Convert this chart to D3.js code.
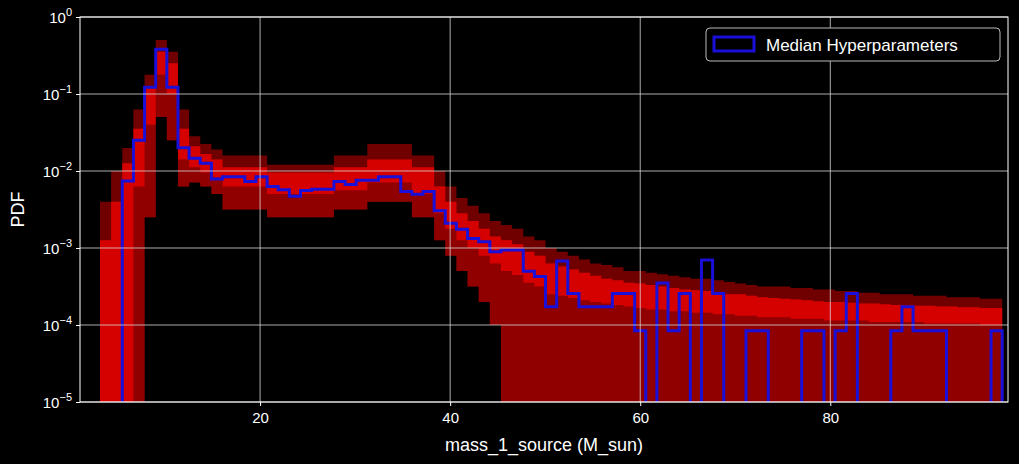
<!DOCTYPE html>
<html><head><meta charset="utf-8">
<script src="https://cdn.jsdelivr.net/npm/d3@7"></script>
<style>
body{margin:0;background:#000;}
svg{display:block;font-family:"Liberation Sans",Arial,sans-serif;}
</style></head>
<body><svg id="chart" width="1019" height="464"></svg>
<script>
// blue histogram: 79 bins from 5.5 to 98.1
const binMin = 5.5, binWidth = 1.172;
const medianPdf = [7.4e-3, 2.5e-2, 0.122, 0.38, 0.122, 0.020, 0.0146, 0.0126, 7.9e-3, 8.4e-3,
  8.4e-3, 7.3e-3, 8.4e-3, 6.3e-3, 5.7e-3, 4.7e-3, 5.6e-3, 5.8e-3, 5.8e-3, 7.3e-3,
  6.7e-3, 7.6e-3, 7.6e-3, 8.4e-3, 8.4e-3, 5.4e-3, 5.0e-3, 5.4e-3, 3.05e-3, 2.1e-3,
  1.75e-3, 1.33e-3, 1.21e-3, 8.95e-4, 9.4e-4, 9.4e-4, 5.0e-4, 4.26e-4, 1.73e-4, 6.8e-4,
  2.57e-4, 1.73e-4, 1.73e-4, 1.73e-4, 2.57e-4, 2.57e-4, 8.4e-5, 0, 3.5e-4, 8.4e-5,
  2.57e-4, 0, 7.0e-4, 2.57e-4, 0, 0, 8.4e-5, 8.4e-5, 0, 0,
  0, 8.4e-5, 8.4e-5, 0, 8.4e-5, 2.57e-4, 0, 0, 0, 8.4e-5,
  1.73e-4, 8.4e-5, 8.4e-5, 8.4e-5, 0, 0, 0, 0, 8.4e-5];

// red posterior-draw envelope (log10 PDF), 81 bins starting two bins left of binMin
const redHi    = [-2.4,-2.0,-1.7,-1.2,-0.75,-0.3,-0.45,-1.2,-1.55,-1.65,-1.72,-1.8,-1.8,-1.8,-1.8,-1.92,-1.92,-1.92,-1.92,-1.92,-1.92,-1.8,-1.8,-1.8,-1.65,-1.65,-1.65,-1.65,-1.8,-1.8,-2.0,-2.2,-2.35,-2.45,-2.55,-2.65,-2.7,-2.75,-2.85,-2.9,-3.0,-3.05,-3.1,-3.15,-3.2,-3.22,-3.25,-3.3,-3.3,-3.32,-3.34,-3.36,-3.38,-3.4,-3.4,-3.42,-3.44,-3.46,-3.48,-3.5,-3.5,-3.5,-3.52,-3.52,-3.54,-3.54,-3.56,-3.56,-3.58,-3.58,-3.6,-3.6,-3.6,-3.62,-3.62,-3.62,-3.64,-3.64,-3.64,-3.66,-3.66];
const redMidHi = [-2.9,-2.4,-1.9,-1.45,-0.9,-0.45,-0.6,-1.45,-1.68,-1.78,-1.85,-1.95,-1.95,-1.95,-1.95,-2.02,-2.02,-2.02,-2.02,-2.02,-2.02,-1.95,-1.95,-1.95,-1.85,-1.85,-1.85,-1.85,-1.95,-1.95,-2.2,-2.4,-2.55,-2.65,-2.75,-2.85,-2.9,-2.95,-3.05,-3.1,-3.2,-3.24,-3.28,-3.32,-3.36,-3.4,-3.42,-3.45,-3.46,-3.48,-3.5,-3.52,-3.54,-3.55,-3.56,-3.58,-3.6,-3.6,-3.62,-3.64,-3.65,-3.66,-3.67,-3.68,-3.69,-3.7,-3.7,-3.71,-3.72,-3.72,-3.73,-3.74,-3.74,-3.75,-3.75,-3.76,-3.76,-3.77,-3.77,-3.78,-3.78];
const redMidLo = [-5,-5,-5,-2.2,-1.4,-0.75,-1.0,-1.85,-1.95,-2.02,-2.08,-2.2,-2.2,-2.2,-2.2,-2.3,-2.3,-2.3,-2.3,-2.3,-2.3,-2.25,-2.25,-2.25,-2.15,-2.15,-2.15,-2.15,-2.3,-2.3,-2.55,-2.75,-2.9,-3.0,-3.1,-3.2,-3.3,-3.35,-3.45,-3.5,-3.6,-3.62,-3.65,-3.68,-3.7,-3.72,-3.74,-3.76,-3.78,-3.8,-3.8,-3.82,-3.82,-3.84,-3.84,-3.86,-3.86,-3.88,-3.88,-3.9,-3.9,-3.9,-3.92,-3.92,-3.92,-3.94,-3.94,-3.94,-3.94,-3.96,-3.96,-3.96,-3.96,-3.96,-3.98,-3.98,-3.98,-3.98,-3.98,-4.0,-4.0];
const redLo    = [-5,-5,-5,-5,-2.6,-1.3,-1.6,-2.2,-2.15,-2.2,-2.3,-2.5,-2.5,-2.5,-2.5,-2.6,-2.6,-2.6,-2.6,-2.6,-2.6,-2.5,-2.5,-2.5,-2.4,-2.4,-2.4,-2.4,-2.6,-2.6,-2.9,-3.1,-3.3,-3.5,-3.7,-4.0,-5,-5,-5,-5,-5,-5,-5,-5,-5,-5,-5,-5,-5,-5,-5,-5,-5,-5,-5,-5,-5,-5,-5,-5,-5,-5,-5,-5,-5,-5,-5,-5,-5,-5,-5,-5,-5,-5,-5,-5,-5,-5,-5,-5,-5];

const xTicks = [20, 40, 60, 80];
const yTicks = [-5, -4, -3, -2, -1, 0];

const svg = d3.select("#chart");
const margin = {left: 80, right: 11, top: 17, bottom: 62};
const W = 1019, H = 464;

const x = d3.scaleLinear().domain([1.05, 98.7]).range([margin.left, W - margin.right]);
const y = d3.scaleLog().domain([1e-5, 1]).range([H - margin.bottom, margin.top]);

svg.append("rect").attr("width", W).attr("height", H).attr("fill", "#000");

svg.append("clipPath").attr("id", "clip").append("rect")
  .attr("x", margin.left).attr("y", margin.top)
  .attr("width", W - margin.left - margin.right).attr("height", H - margin.top - margin.bottom);

const plot = svg.append("g").attr("clip-path", "url(#clip)");

const redStart = binMin - 2 * binWidth;
const redBins = redHi.map((h, i) => ({
  x0: redStart + i * binWidth, x1: redStart + (i + 1) * binWidth,
  hi: h, midHi: redMidHi[i], midLo: redMidLo[i], lo: redLo[i]
}));
const p = v => y(Math.pow(10, Math.max(v, -5.2)));

// faint outer envelope, then denser core, drawn as step areas
const area = (top, bot) => d3.area()
  .x(d => x(d.xx)).y0(d => p(d[bot])).y1(d => p(d[top])).curve(d3.curveStepAfter);
const stepPts = redBins.flatMap(d => [{...d, xx: d.x0}]).concat([{...redBins[redBins.length - 1], xx: redBins[redBins.length - 1].x1}]);

plot.append("path").datum(stepPts).attr("d", area("hi", "lo"))
  .attr("fill", "#a00000").attr("opacity", 0.7);
plot.append("path").datum(stepPts).attr("d", area("midHi", "lo"))
  .attr("fill", "#b00000").attr("opacity", 0.5);
plot.append("path").datum(stepPts).attr("d", area("midHi", "midLo"))
  .attr("fill", "#e60000").attr("opacity", 0.8);

// grid
const grid = svg.append("g").attr("stroke", "#d8d8d8").attr("stroke-width", 0.8);
grid.selectAll(".gx").data(xTicks).join("line")
  .attr("x1", d => x(d)).attr("x2", d => x(d)).attr("y1", margin.top).attr("y2", H - margin.bottom);
grid.selectAll(".gy").data(yTicks).join("line")
  .attr("x1", margin.left).attr("x2", W - margin.right)
  .attr("y1", d => y(Math.pow(10, d))).attr("y2", d => y(Math.pow(10, d)));

// blue step histogram
const pts = [];
const yv = v => v > 0 ? y(v) : y(1e-6);
medianPdf.forEach((v, i) => {
  const x0 = binMin + i * binWidth, x1 = x0 + binWidth;
  if (i === 0) pts.push([x(x0), y(1e-6)]);
  pts.push([x(x0), yv(v)], [x(x1), yv(v)]);
});
pts.push([x(binMin + medianPdf.length * binWidth), y(1e-6)]);
plot.append("path").attr("d", d3.line()(pts))
  .attr("fill", "none").attr("stroke", "#1a0fd8").attr("stroke-width", 3);

// frame
svg.append("rect").attr("x", margin.left).attr("y", margin.top)
  .attr("width", W - margin.left - margin.right).attr("height", H - margin.top - margin.bottom)
  .attr("fill", "none").attr("stroke", "#fff").attr("stroke-width", 1);

// axes
const xAxis = svg.append("g").attr("transform", `translate(0,${H - margin.bottom})`)
  .call(d3.axisBottom(x).tickValues(xTicks).tickSize(4).tickFormat(d3.format("d")));
xAxis.select(".domain").remove();
xAxis.selectAll("line").attr("stroke", "#fff");
xAxis.selectAll("text").attr("fill", "#fff").attr("font-size", 15).attr("dy", "0.95em")
  .style("font-family", "Liberation Sans, Arial, sans-serif");

const yAxis = svg.append("g").attr("transform", `translate(${margin.left},0)`)
  .call(d3.axisLeft(y).tickValues(yTicks.map(d => Math.pow(10, d))).tickSize(4).tickFormat(""));
yAxis.select(".domain").remove();
yAxis.selectAll("line").attr("stroke", "#fff");
yTicks.forEach(d => {
  const t = svg.append("text").attr("x", margin.left - 8).attr("y", y(Math.pow(10, d)) + 6)
    .attr("text-anchor", "end").attr("fill", "#fff").attr("font-size", 15);
  t.append("tspan").text("10");
  t.append("tspan").attr("dy", -7).attr("font-size", 11).text(d === 0 ? "0" : "\u2212" + (-d));
});

svg.append("text").attr("x", (margin.left + W - margin.right) / 2).attr("y", 451)
  .attr("text-anchor", "middle").attr("fill", "#fff").attr("font-size", 18)
  .text("mass_1_source (M_sun)");
svg.append("text").attr("transform", `translate(24,${(margin.top + H - margin.bottom) / 2}) rotate(-90)`)
  .attr("text-anchor", "middle").attr("fill", "#fff").attr("font-size", 18).text("PDF");

// legend
const lg = svg.append("g");
lg.append("rect").attr("x", 706).attr("y", 28).attr("width", 294).attr("height", 33).attr("rx", 4)
  .attr("fill", "#000").attr("stroke", "#bbb").attr("stroke-width", 1);
lg.append("rect").attr("x", 714).attr("y", 37).attr("width", 40).attr("height", 14)
  .attr("fill", "none").attr("stroke", "#1a0fd8").attr("stroke-width", 3);
lg.append("text").attr("x", 766).attr("y", 51).attr("fill", "#fff").attr("font-size", 17)
  .text("Median Hyperparameters");
</script></body></html>
